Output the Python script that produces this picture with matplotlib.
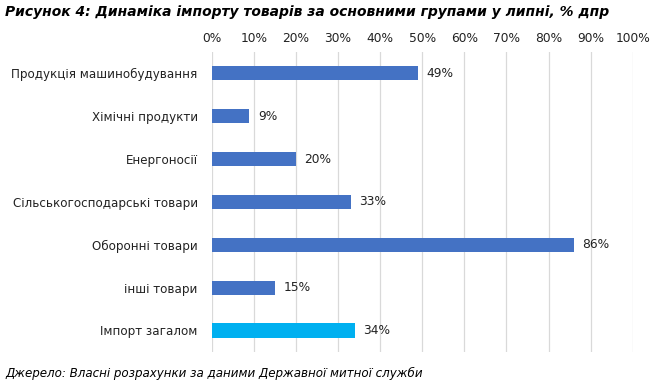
import matplotlib.pyplot as plt
import numpy as np

categories = ["Продукція машинобудування", "Хімічні продукти", "Енергоносії",
              "Сільськогосподарські товари", "Оборонні товари", "інші товари",
              "Імпорт загалом"]
values = [49, 9, 20, 33, 86, 15, 34]
colors = ["#4472C4"] * 6 + ["#00B0F0"]
ticks = list(range(0, 101, 10))

plt.rcParams["font.family"] = "DejaVu Sans"
fig = plt.figure(figsize=(6.53, 3.85), dpi=100)
ax = fig.add_axes([0.324, 0.086, 0.645, 0.779])

y = np.arange(len(categories))
ax.barh(y, values, height=0.33, color=colors, zorder=3)
ax.set_ylim(len(categories) - 0.5, -0.5)
ax.set_xlim(0, 100)

for yi, v in zip(y, values):
    ax.text(v + 2.0, yi, f"{v}%", va="center", ha="left", fontsize=8.8,
            color="#222222")

ax.set_xticks(ticks)
ax.set_xticklabels([f"{t}%" for t in ticks], fontsize=8.8)
ax.xaxis.tick_top()
ax.tick_params(axis="x", length=0, pad=5, colors="#222222")
ax.set_yticks(y)
ax.set_yticklabels(categories, fontsize=8.6, color="#222222")
ax.tick_params(axis="y", length=0, pad=10)
ax.grid(axis="x", color="#D9D9D9", linewidth=0.9, zorder=0)
for s in ax.spines.values():
    s.set_visible(False)

fig.text(0.008, 0.968, "Рисунок 4: Динаміка імпорту товарів за основними групами у липні, % дпр",
         fontsize=10, fontweight="bold", style="italic", va="center")
fig.text(0.008, 0.029, "Джерело: Власні розрахунки за даними Державної митної служби",
         fontsize=8.6, style="italic", va="center")

fig.savefig("out.png", dpi=100)
